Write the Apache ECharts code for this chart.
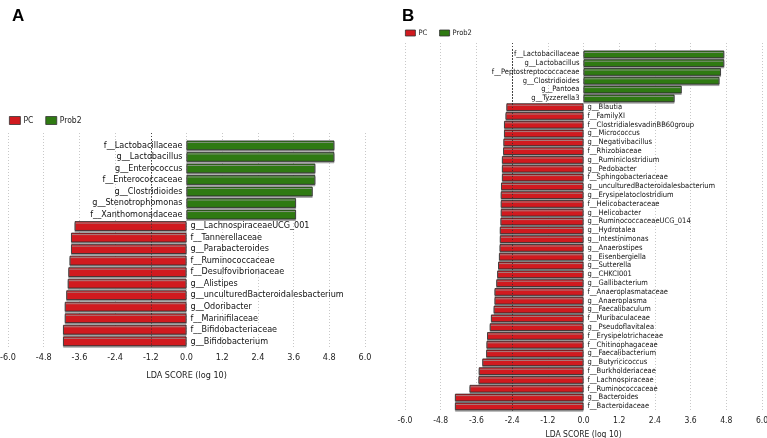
<!DOCTYPE html>
<html><head><meta charset="utf-8">
<script src="https://cdn.jsdelivr.net/npm/echarts@6/dist/echarts.min.js"></script>
<style>html,body{margin:0;padding:0;background:#fff}#c{width:767px;height:438px}</style>
</head><body><div id="c"></div>
<script>
// Panel A
const aProb2Names = ['f__Lactobacillaceae','g__Lactobacillus','g__Enterococcus','f__Enterococcaceae','g__Clostridioides','g__Stenotrophomonas','f__Xanthomonadaceae'];
const aProb2Scores = [4.97,4.97,4.33,4.33,4.24,3.68,3.68];
const aPCNames = ['g__LachnospiraceaeUCG_001','f__Tannerellaceae','g__Parabacteroides','f__Ruminococcaceae','f__Desulfovibrionaceae','g__Alistipes','g__unculturedBacteroidalesbacterium','g__Odoribacter','f__Marinifilaceae','f__Bifidobacteriaceae','g__Bifidobacterium'];
const aPCScores = [-3.76,-3.88,-3.88,-3.93,-3.97,-3.99,-4.04,-4.09,-4.09,-4.15,-4.15];
// Panel B
const bProb2Names = ['f__Lactobacillaceae','g__Lactobacillus','f__Peptostreptococcaceae','g__Clostridioides','g__Pantoea','g__Tyzzerella3'];
const bProb2Scores = [4.73,4.73,4.62,4.57,3.30,3.06];
const bPCNames = ['g__Blautia','f__FamilyXI','f__ClostridialesvadinBB60group','g__Micrococcus','g__Negativibacillus','f__Rhizobiaceae','g__Ruminiclostridium','g__Pedobacter','f__Sphingobacteriaceae','g__unculturedBacteroidalesbacterium','g__Erysipelatoclostridium','f__Helicobacteraceae','g__Helicobacter','g__RuminococcaceaeUCG_014','g__Hydrotalea','g__Intestinimonas','g__Anaerostipes','g__Eisenbergiella','g__Sutterella','g__CHKCI001','g__Gallibacterium','f__Anaeroplasmataceae','g__Anaeroplasma','g__Faecalibaculum','f__Muribaculaceae','g__Pseudoflavitalea','f__Erysipelotrichaceae','f__Chitinophagaceae','g__Faecalibacterium','g__Butyricicoccus','f__Burkholderiaceae','f__Lachnospiraceae','f__Ruminococcaceae','g__Bacteroides','f__Bacteroidaceae'];
const bPCScores = [-2.59,-2.62,-2.67,-2.67,-2.69,-2.70,-2.74,-2.74,-2.74,-2.77,-2.78,-2.78,-2.78,-2.79,-2.81,-2.81,-2.82,-2.84,-2.87,-2.90,-2.93,-2.99,-2.99,-3.02,-3.11,-3.15,-3.24,-3.26,-3.27,-3.40,-3.52,-3.53,-3.83,-4.32,-4.32];
const xTicks = ['-6.0','-4.8','-3.6','-2.4','-1.2','0.0','1.2','2.4','3.6','4.8','6.0'];
const axisName = 'LDA SCORE (log 10)';
const groupNames = ['PC','Prob2'];

const RED = '#d11a1f', GREEN = '#2f7a12';
const NARROW = "'Liberation Sans Narrow','DejaVu Sans Condensed',sans-serif";

const chart = echarts.init(document.getElementById('c'), null, {renderer:'canvas'});

function panel(idx, prob2Names, prob2Scores, pcNames, pcScores, geo, darkTickIdx, darkVal, labelSize, tickSize) {
  const cats = prob2Names.concat(pcNames);
  const prob2Data = cats.map((c,i)=> i < prob2Names.length ? prob2Scores[i] : '-');
  const pcData = cats.map((c,i)=> i >= prob2Names.length ? pcScores[i-prob2Names.length] : '-');
  const g0 = idx*2, g1 = idx*2+1;
  const grids = [
    {left: geo.left, width: geo.width, top: geo.barTop, height: geo.barH, outerBoundsMode:'none', containLabel:false},
    {left: geo.left, width: geo.width, top: geo.lineTop, height: geo.barTop + geo.barH - geo.lineTop, outerBoundsMode:'none', containLabel:false}
  ];
  const lineColors = xTicks.map((t,i)=> i===darkTickIdx ? '#444' : '#c8c8c8');
  const xAxes = [
    {gridIndex: g0, type:'value', min:-6, max:6, interval:1.2, show:false},
    {gridIndex: g1, type:'value', min:-6, max:6, interval:1.2,
     axisLine:{show:false}, axisTick:{show:false},
     splitLine:{show:true, lineStyle:{type:[1,2], color: lineColors, width:1}},
     axisLabel:{margin: geo.labelMargin, fontFamily: NARROW, fontSize: tickSize, color:'#222',
       formatter: v => { const i = Math.round((v+6)/1.2); return xTicks[i]; }},
     name: axisName, nameLocation:'middle', nameGap: geo.nameGap,
     nameTextStyle:{fontFamily: NARROW, fontSize: tickSize, color:'#222'}}
  ];
  const yAxes = [
    {gridIndex: g0, type:'category', data: cats, inverse:true, show:false},
    {gridIndex: g1, type:'value', min:0, max:1, show:false}
  ];
  const common = {type:'bar', stack:'s'+idx, xAxisIndex: g0, yAxisIndex: g0, barCategoryGap: geo.gap,
    itemStyle:{borderColor:'#2b2b2b', borderWidth:0.8, shadowColor:'#9a9a9a', shadowOffsetY:1.5, shadowBlur:0}};
  const series = [
    Object.assign({}, common, {name: groupNames[0], data: pcData,
      itemStyle: Object.assign({}, common.itemStyle, {color: RED}),
      label:{show:true, position:'right', distance:4, formatter: p=>p.name, fontFamily: NARROW, fontSize: labelSize, color:'#111'},
      markLine:{silent:true, symbol:'none', label:{show:false},
        lineStyle:{type:[1,2], color:'#333', width:1}, data:[{xAxis: darkVal}]}}),
    Object.assign({}, common, {name: groupNames[1], data: prob2Data,
      itemStyle: Object.assign({}, common.itemStyle, {color: GREEN}),
      label:{show:true, position:'left', distance:4, formatter: p=>p.name, fontFamily: NARROW, fontSize: labelSize, color:'#111'}})
  ];
  return {grids, xAxes, yAxes, series};
}

const A = panel(0, aProb2Names, aProb2Scores, aPCNames, aPCScores,
  {left:8, width:357, barTop:139.6, barH:207.4, lineTop:133, labelMargin:6, nameGap:24, gap:'16%'}, 4, -1.2, 9, 9);
const B = panel(1, bProb2Names, bProb2Scores, bPCNames, bPCScores,
  {left:405, width:357, barTop:49.9, barH:360.8, lineTop:43, labelMargin:6, nameGap:17, gap:'14%'}, 3, -2.4, 7.5, 8.5);

chart.setOption({
  animation:false,
  backgroundColor:'#fff',
  title:[
    {text:'A', left:7, top:3, textStyle:{fontFamily:"'Liberation Sans',Arial,sans-serif", fontWeight:'bold', fontSize:17, color:'#000'}},
    {text:'B', left:397, top:3, textStyle:{fontFamily:"'Liberation Sans',Arial,sans-serif", fontWeight:'bold', fontSize:17, color:'#000'}}
  ],
  legend:[
    {left:9, top:116, padding:0, icon:'rect', itemWidth:11, itemHeight:8, itemGap:12, data:groupNames, selectedMode:false,
     textStyle:{fontFamily:NARROW, fontSize:8.5, color:'#222', padding:[0,0,0,-2]},
     itemStyle:{borderColor:'#333', borderWidth:0.8}},
    {left:405, top:29, padding:0, icon:'rect', itemWidth:10, itemHeight:6, itemGap:12, data:groupNames, selectedMode:false,
     textStyle:{fontFamily:NARROW, fontSize:7.5, color:'#222', padding:[0,0,0,-2]},
     itemStyle:{borderColor:'#333', borderWidth:0.8}}
  ],
  grid: A.grids.concat(B.grids),
  xAxis: A.xAxes.concat(B.xAxes),
  yAxis: A.yAxes.concat(B.yAxes),
  series: A.series.concat(B.series)
});
</script></body></html>
